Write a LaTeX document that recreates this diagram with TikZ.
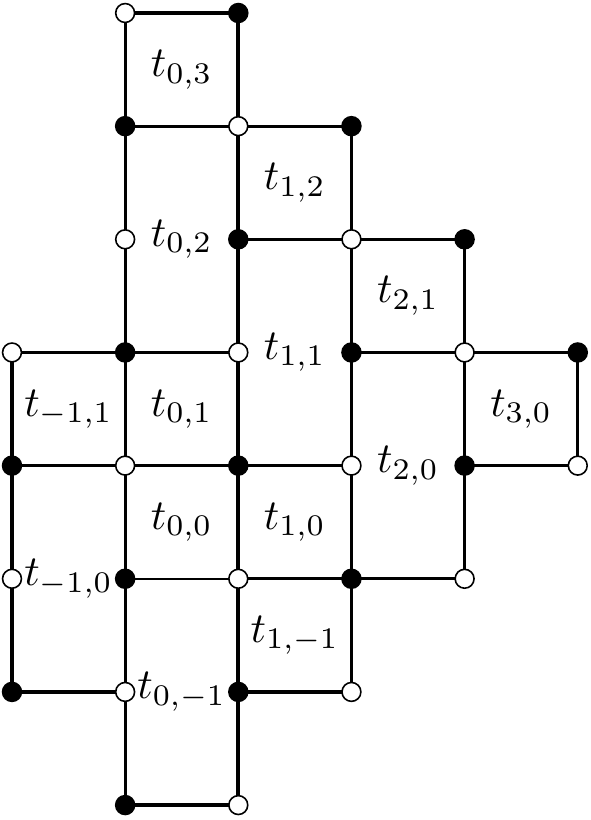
\documentclass[tikz,border=0pt]{standalone}
\usepackage{graphicx}
\newcommand{\tl}[1]{\scalebox{2.15}{$t_{#1}$}}
\begin{document}
\begin{tikzpicture}[x=2cm,y=2cm,
  edge/.style={line width=1.6pt},
  thickedge/.style={line width=2pt},
  thinedge/.style={line width=1pt},
  vtx/.style={circle,draw=black,line width=0.8pt,inner sep=0pt,minimum size=9.5pt},
  wv/.style={vtx,fill=white},
  bv/.style={vtx,fill=black},
  lab/.style={inner sep=0pt}]
\useasboundingbox (-0.106,0.115) rectangle (5.115,-7.132);
% vertices
\foreach \i/\j in {1/0,2/0, 1/1,2/1,3/1, 1/2,2/2,3/2,4/2, 0/3,1/3,2/3,3/3,4/3,5/3,
  0/4,1/4,2/4,3/4,4/4,5/4, 0/5,1/5,2/5,3/5,4/5, 0/6,1/6,2/6,3/6, 1/7,2/7}{
  \coordinate (v\i\j) at (\i,-\j);
}
% horizontal edges
\foreach \a/\b in {10/20,11/21,21/31,22/32,32/42,03/13,13/23,33/43,43/53,
  04/14,14/24,24/34,44/54,25/35,35/45,06/16,26/36,17/27}
  \draw[edge] (v\a) -- (v\b);
\draw[thinedge] (v15) -- (v25);
% vertical edges
\foreach \a/\b in {03/04,04/05,05/06, 10/11,11/12,12/13,13/14,14/15,15/16,16/17,
  31/32,32/33,33/34,34/35,35/36, 42/43,43/44,44/45, 53/54}
  \draw[edge] (v\a) -- (v\b);
\foreach \a/\b in {20/21,21/22,22/23,23/24,24/25,25/26,26/27}
  \draw[thickedge] (v\a) -- (v\b);
% vertex markers
\foreach \i/\j in {1/0,2/0, 1/1,2/1,3/1, 1/2,2/2,3/2,4/2, 0/3,1/3,2/3,3/3,4/3,5/3,
  0/4,1/4,2/4,3/4,4/4,5/4, 0/5,1/5,2/5,3/5,4/5, 0/6,1/6,2/6,3/6, 1/7,2/7}{
  \pgfmathtruncatemacro{\pp}{mod(\i+\j,2)}
  \ifnum\pp=1
    \node[wv] (n\i\j) at (v\i\j) {};
  \else
    \node[bv] (n\i\j) at (v\i\j) {};
  \fi
}
% labels
\node[lab] (t03) at (1.5,-0.5) {\tl{0,3}};
\node[lab] (t12) at (2.5,-1.5) {\tl{1,2}};
\node[lab] (t02) at (1.5,-2) {\tl{0,2}};
\node[lab] (t21) at (3.5,-2.5) {\tl{2,1}};
\node[lab] (t11) at (2.5,-3) {\tl{1,1}};
\node[lab] (tm11) at (0.5,-3.5) {\tl{-1,1}};
\node[lab] (t01) at (1.5,-3.5) {\tl{0,1}};
\node[lab] (t30) at (4.5,-3.5) {\tl{3,0}};
\node[lab] (t20) at (3.5,-4) {\tl{2,0}};
\node[lab] (t00) at (1.5,-4.5) {\tl{0,0}};
\node[lab] (t10) at (2.5,-4.5) {\tl{1,0}};
\node[lab] (tm10) at (0.5,-5) {\tl{-1,0}};
\node[lab] (t1m1) at (2.5,-5.5) {\tl{1,-1}};
\node[lab] (t0m1) at (1.5,-6) {\tl{0,-1}};
\end{tikzpicture}
\end{document}
